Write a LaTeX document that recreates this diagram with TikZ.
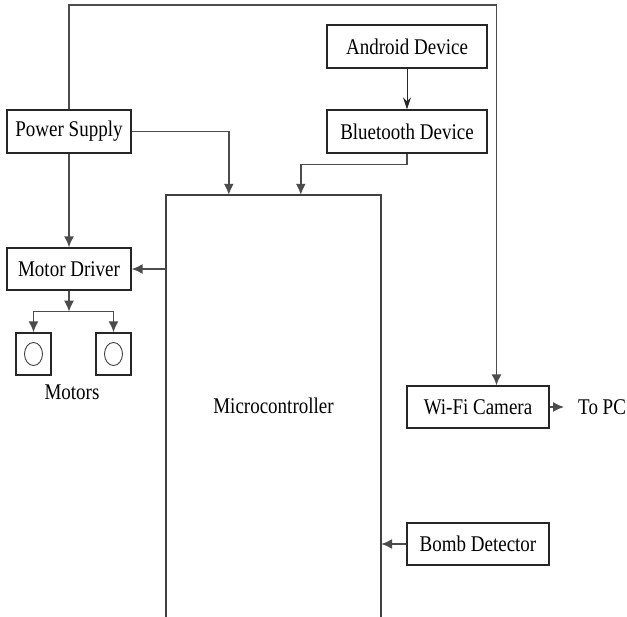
\documentclass[tikz,border=0pt]{standalone}
\usepackage{fontspec}
\setmainfont{Liberation Serif}
\usetikzlibrary{arrows.meta,calc}
\newcommand{\tallt}[1]{\scalebox{1}[1.18]{#1}}
\begin{document}
\begin{tikzpicture}[x=1pt,y=-1pt,
  box/.style={draw=black!85,line width=1.4pt,fill=white,minimum height=43pt,inner sep=0pt,font=\fontsize{19}{22}\selectfont},
  wire/.style={draw=black!70,line width=1.5pt},
  arr/.style={wire,-{Latex[length=11pt,width=10pt]}},
  lbl/.style={font=\fontsize{19}{22}\selectfont,inner sep=0pt}]
\useasboundingbox (0,0) rectangle (627,617);
% nodes
\node[box,minimum width=124pt] (ps) at (69,131.5) {\tallt{Power Supply}};
\node[box,minimum width=160pt] (and) at (407,46.5) {\tallt{Android Device}};
\node[box,minimum width=160pt] (bt) at (407,131.5) {\tallt{Bluetooth Device}};
\node[lbl,minimum width=215pt,minimum height=422pt] (mc) at (273.5,406) {\tallt{Microcontroller}};
\draw[draw=black!75,line width=1.5pt] (mc.south west) -- (mc.north west) -- (mc.north east) -- (mc.south east);
\node[box,minimum width=124pt,minimum height=42pt] (md) at (69,269) {\tallt{Motor Driver}};
\node[box,minimum width=35pt,minimum height=42pt] (m1) at (33.5,354) {};
\node[box,minimum width=35pt,minimum height=42pt] (m2) at (113.5,354) {};
\draw[black!75,line width=0.9pt] (m1.center) ellipse [x radius=9pt,y radius=11.5pt];
\draw[black!75,line width=0.9pt] (m2.center) ellipse [x radius=9pt,y radius=11.5pt];
\node[lbl] (motors) at (72,392) {\tallt{Motors}};
\node[box,minimum width=142pt,minimum height=42pt] (wifi) at (478,407) {\tallt{Wi-Fi Camera}};
\node[box,minimum width=142pt,minimum height=42pt] (bomb) at (478,544) {\tallt{Bomb Detector}};
\node[lbl,anchor=west] (pc) at (578,407) {\tallt{To PC}};
% coordinates
\coordinate (tl) at (69,5);
\coordinate (tr) at (496.5,5);
\coordinate (psin) at ($(mc.north west)+(63,0)$);
\coordinate (btin) at ($(mc.north west)+(135,0)$);
\coordinate (split) at ($(md.south)+(0,21)$);
% connectors
\draw[arr] (ps.north) -- (tl) -- (tr) -- (tr |- wifi.north);
\draw[arr] (ps.east) -| (psin);
\draw[-{Stealth[length=12pt,width=8pt,inset=4pt]},draw=black!85,line width=1pt] (and.south) -- (bt.north);
\draw[arr] (bt.south) -- ++(0,11) -| (btin);
\draw[arr] (ps.south) -- (md.north);
\draw[arr] (mc.west |- md.east) -- (md.east);
\draw[arr] (md.south) -- (split);
\draw[arr] (split) -| (m1.north);
\draw[arr] (split) -| (m2.north);
\draw[arr] (wifi.east) -- ($(pc.west)+(-14,0)$);
\draw[arr] (bomb.west) -- (mc.east |- bomb.west);
\end{tikzpicture}
\end{document}
